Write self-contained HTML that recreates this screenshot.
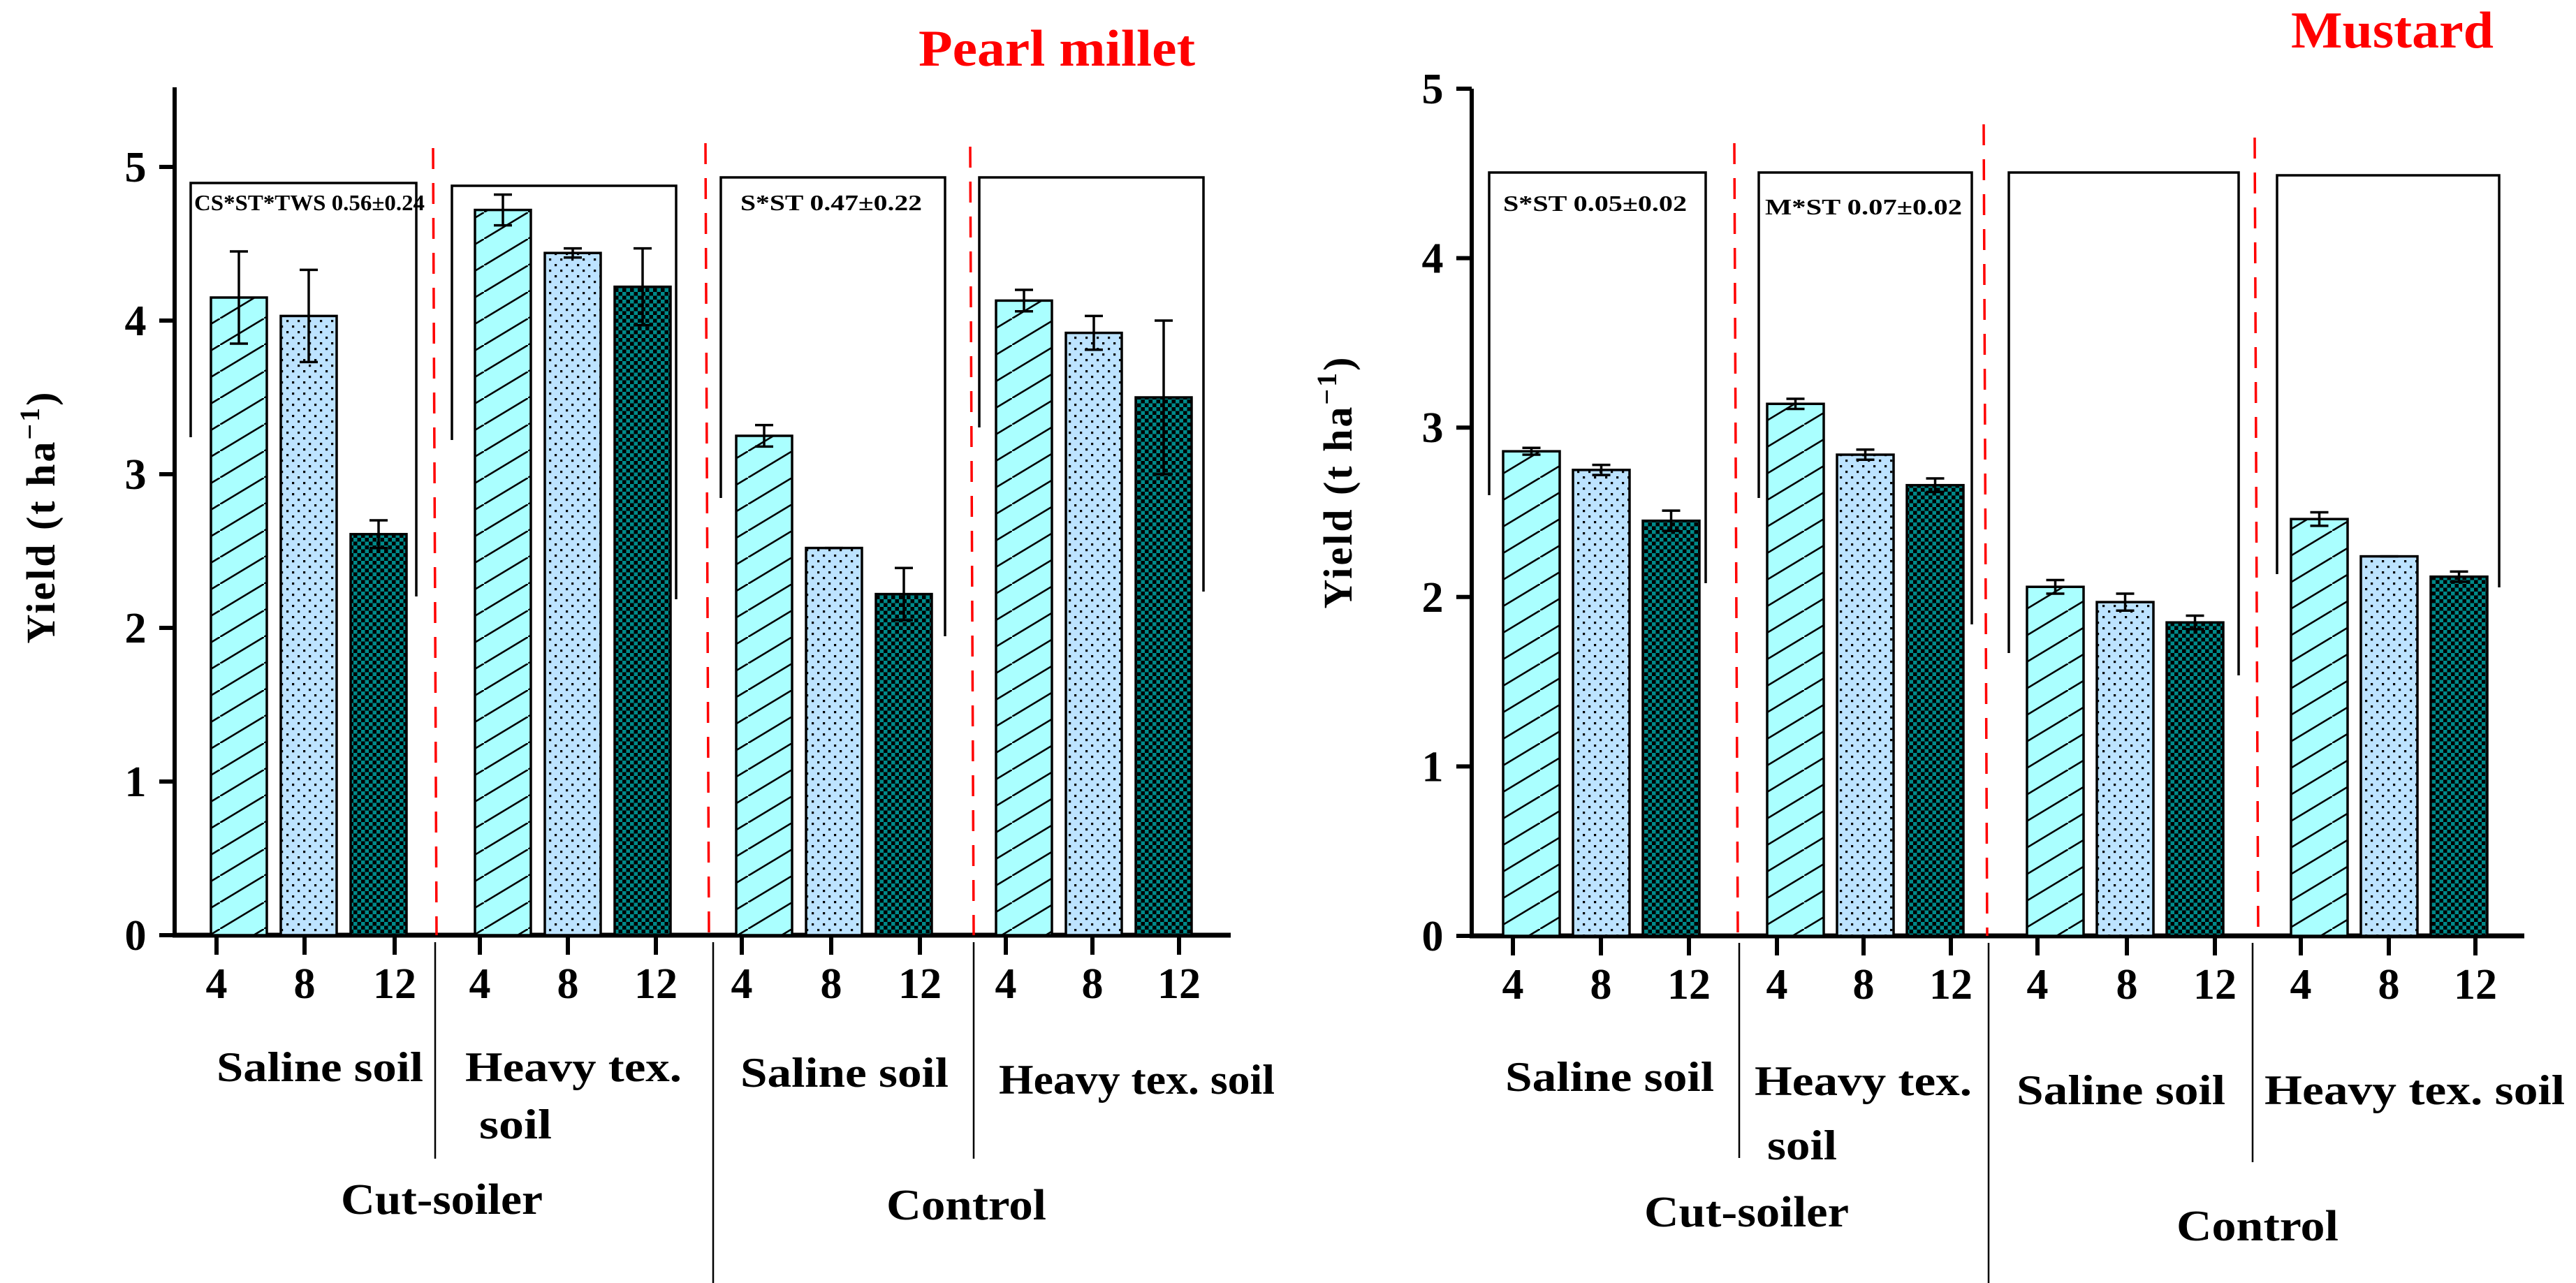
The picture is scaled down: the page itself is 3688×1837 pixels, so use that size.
<!DOCTYPE html>
<html><head><meta charset="utf-8"><style>
html,body{margin:0;padding:0;background:#fff;}
svg{display:block;}
text{font-family:"Liberation Serif",serif;font-weight:bold;}
</style></head><body>
<svg id="fig" width="3688" height="1837" viewBox="0 0 3688 1837" xmlns="http://www.w3.org/2000/svg">
<defs>
<pattern id="hatch" patternUnits="userSpaceOnUse" width="63" height="38">
<rect width="63" height="38" fill="#aaffff"/>
<line x1="-6" y1="41.6" x2="69" y2="-3.6" stroke="#000" stroke-width="2.6"/>
</pattern>
<pattern id="dots" patternUnits="userSpaceOnUse" width="16" height="16">
<rect width="16" height="16" fill="#bde3ff"/>
<rect x="2" y="2" width="3.2" height="3.2" fill="#000"/>
<rect x="10" y="10" width="3.2" height="3.2" fill="#000"/>
</pattern>
<pattern id="check" patternUnits="userSpaceOnUse" width="11" height="11">
<rect width="11" height="11" fill="#000"/>
<rect width="5.5" height="5.5" fill="#008a8a"/>
<rect x="5.5" y="5.5" width="5.5" height="5.5" fill="#008a8a"/>
</pattern>
</defs>
<g id="left"></g>
<g id="right"></g>
</svg>
<script>
// ---- data ----
const groups = ["Saline soil", "Heavy tex. soil", "Saline soil", "Heavy tex. soil"];
const depthLabels = ["4", "8", "12"];
const yTicks = [0, 1, 2, 3, 4, 5];
const pearlValues = [4.15, 4.03, 2.61, 4.72, 4.44, 4.22, 3.25, 2.52, 2.22, 4.13, 3.92, 3.50];
const pearlErrors = [0.30, 0.30, 0.09, 0.10, 0.03, 0.25, 0.07, 0.00, 0.17, 0.07, 0.11, 0.50];
const mustardValues = [2.86, 2.75, 2.45, 3.14, 2.84, 2.66, 2.06, 1.97, 1.85, 2.46, 2.24, 2.12];
const mustardErrors = [0.02, 0.03, 0.06, 0.03, 0.03, 0.04, 0.04, 0.05, 0.04, 0.04, 0.00, 0.03];
const pearlNotes = ["CS*ST*TWS 0.56±0.24", "", "S*ST 0.47±0.22", ""];
const mustardNotes = ["S*ST 0.05±0.02", "M*ST 0.07±0.02", "", ""];

const NS = "http://www.w3.org/2000/svg";
function el(parent, tag, attrs, txt) {
  const e = document.createElementNS(NS, tag);
  for (const k in attrs) e.setAttribute(k, attrs[k]);
  if (txt !== undefined) e.textContent = txt;
  parent.appendChild(e);
  return e;
}
const fills = ["url(#hatch)", "url(#dots)", "url(#check)"];

function drawChart(g, cfg, values, errors, notes) {
  const y = v => cfg.y0 - v * cfg.unit;
  const t = el(g, "text", {x: cfg.title[0], y: cfg.title[1], fill: "#ff0000", "font-size": 74, textLength: cfg.title[2], lengthAdjust: "spacingAndGlyphs"}, cfg.titleText);
  
  
  const yl = el(g, "text", {transform: `translate(${cfg.ylabX},${cfg.ylabY}) rotate(-90)`, "text-anchor": "middle", "font-size": 58, "letter-spacing": "3"});
  
  
  el(yl, "tspan", {}, "Yield (t ha");
  el(yl, "tspan", {dy: -22, "font-size": 40}, "−1");
  el(yl, "tspan", {dy: 22}, ")");
  const ax = el(g, "line", {x1: cfg.ax, y1: cfg.axTop, x2: cfg.ax, y2: cfg.y0 + 3, stroke: "#000", "stroke-width": 6});
  
  
  yTicks.forEach(v => {
    const tk = el(g, "line", {x1: cfg.ax - 22, y1: y(v), x2: cfg.ax, y2: y(v), stroke: "#000", "stroke-width": 6});
    
    
    const tl = el(g, "text", {x: cfg.ax - 56, y: y(v) + 21, "text-anchor": "middle", "font-size": 62}, String(v));
    
    
  });
  const xa = el(g, "line", {x1: cfg.ax - 3, y1: cfg.y0, x2: cfg.axRight, y2: cfg.y0, stroke: "#000", "stroke-width": 7});
  
  
  cfg.brackets.forEach((b, i) => {
    const p = el(g, "path", {d: `M${b[0]},${b[3]} V${b[2]} H${b[1]} V${b[4]}`, fill: "none", stroke: "#000", "stroke-width": 3.5});
    
    
    if (notes[i]) {
      const n = el(g, "text", {x: cfg.noteX[i][0], y: cfg.noteY[i], "font-size": 32, textLength: cfg.noteX[i][1], lengthAdjust: "spacingAndGlyphs"}, notes[i]);
      
      
    }
  });
  cfg.dashes.forEach(d => {
    const l = el(g, "line", {x1: d[0], y1: d[1], x2: d[0] + 5, y2: cfg.y0, stroke: "#ff0000", "stroke-width": 3.5, "stroke-dasharray": "30,20"});
    
    
  });
  values.forEach((v, i) => {
    const gi = Math.floor(i / 3), k = i % 3;
    const x = cfg.barStart[gi] + k * cfg.barStep;
    const r = el(g, "rect", {x: x, y: y(v), width: cfg.barW, height: y(0) - y(v), fill: fills[k], stroke: "#000", "stroke-width": 3.5});
    
    
    const e = errors[i];
    const cx = x + cfg.barW / 2;
    const eb = el(g, "path", {d: `M${cx},${y(v - e)} V${y(v + e)} M${cx - 13},${y(v + e)} H${cx + 13} M${cx - 13},${y(v - e)} H${cx + 13}`, stroke: "#000", "stroke-width": 3.5, fill: "none"});
    
    
  });
  cfg.ticks.forEach((tx, i) => {
    const tk = el(g, "line", {x1: tx, y1: cfg.y0, x2: tx, y2: cfg.y0 + 28, stroke: "#000", "stroke-width": 6});
    
    
    const tl = el(g, "text", {x: tx, y: cfg.y0 + 90, "text-anchor": "middle", "font-size": 62}, depthLabels[i % 3]);
    
    
  });
  cfg.groupLabels.forEach((gl, i) => {
    const t2 = el(g, "text", {x: gl[0], y: gl[1], "font-size": 60, textLength: gl[2], lengthAdjust: "spacingAndGlyphs"}, gl[3]);
    
    
  });
  cfg.seps.forEach(s => {
    const l = el(g, "line", {x1: s[0], y1: cfg.y0 + 10, x2: s[0], y2: s[1], stroke: "#000", "stroke-width": 2.5});
    
    
  });
  cfg.treat.forEach(tr => {
    const t3 = el(g, "text", {x: tr[0], y: tr[1], "font-size": 62, textLength: tr[2], lengthAdjust: "spacingAndGlyphs"}, tr[3]);
    
    
  });
}

const leftCfg = {
  y0: 1339, unit: 220, ax: 250, axTop: 125, axRight: 1762,
  title: [1315, 94, 396], titleText: "Pearl millet",
  ylabX: 78, ylabY: 740,
  barStart: [302, 680, 1054, 1426], barStep: 100, barW: 80,
  ticks: [310, 436, 565, 687, 813, 939, 1062, 1190, 1317, 1440, 1564, 1688],
  brackets: [[273, 596, 262, 626, 854], [647, 968, 266, 630, 858], [1032, 1353, 254, 713, 911], [1402, 1723, 254, 612, 847]],
  noteX: [[278, 330], [0, 0], [1060, 260], [0, 0]], noteY: [301, 0, 301, 0],
  dashes: [[620, 212], [1010, 205], [1389, 210]],
  groupLabels: [[310, 1548, 296, "Saline soil"], [666, 1548, 310, "Heavy tex."], [686, 1630, 104, "soil"], [1060, 1556, 298, "Saline soil"], [1430, 1566, 395, "Heavy tex. soil"]],
  seps: [[623, 1659], [1021, 1837], [1394, 1659]],
  treat: [[488, 1738, 289, "Cut-soiler"], [1269, 1746, 229, "Control"]]
};
const rightCfg = {
  y0: 1340, unit: 242.6, ax: 2107, axTop: 127, axRight: 3614,
  title: [3280, 68, 290], titleText: "Mustard",
  ylabX: 1935, ylabY: 690,
  barStart: [2152, 2530, 2902, 3280], barStep: 100, barW: 81,
  ticks: [2166, 2292, 2418, 2544, 2668, 2793, 2917, 3045, 3171, 3294, 3420, 3544],
  brackets: [[2132, 2442, 247, 709, 835], [2518, 2823, 247, 713, 894], [2876, 3205, 247, 935, 967], [3260, 3578, 251, 822, 841]],
  noteX: [[2152, 263], [2527, 282], [0, 0], [0, 0]], noteY: [302, 307, 0, 0],
  dashes: [[2483, 205], [2840, 178], [3228, 197]],
  groupLabels: [[2155, 1562, 299, "Saline soil"], [2512, 1568, 311, "Heavy tex."], [2530, 1660, 100, "soil"], [2887, 1581, 299, "Saline soil"], [3242, 1581, 430, "Heavy tex. soil"]],
  seps: [[2490, 1658], [2847, 1837], [3225, 1664]],
  treat: [[2354, 1756, 293, "Cut-soiler"], [3116, 1776, 232, "Control"]]
};
drawChart(document.getElementById("left"), leftCfg, pearlValues, pearlErrors, pearlNotes);
drawChart(document.getElementById("right"), rightCfg, mustardValues, mustardErrors, mustardNotes);
</script>
</body></html>
